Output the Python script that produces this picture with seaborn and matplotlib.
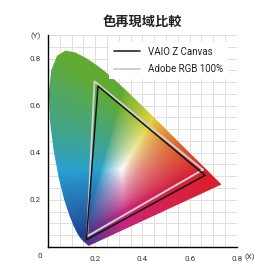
import numpy as np
import pandas as pd
import seaborn as sns
import matplotlib
matplotlib.use("Agg")
from matplotlib import pyplot as plt
from matplotlib.patches import Polygon

# CIE 1931 spectral locus (x, y), 380-680 nm
locus_x = [0.1741, 0.1740, 0.1738, 0.1736, 0.1733, 0.1730, 0.1726, 0.1721, 0.1714, 0.1703,
           0.1689, 0.1669, 0.1644, 0.1611, 0.1566, 0.1510, 0.1440, 0.1355, 0.1241, 0.1096,
           0.0913, 0.0687, 0.0454, 0.0235, 0.0082, 0.0039, 0.0139, 0.0389, 0.0743, 0.1142,
           0.1547, 0.1929, 0.2296, 0.2658, 0.3016, 0.3373, 0.3731, 0.4087, 0.4441, 0.4788,
           0.5125, 0.5448, 0.5752, 0.6029, 0.6270, 0.6482, 0.6658, 0.6801, 0.6915, 0.7006,
           0.7079, 0.7140, 0.7190, 0.7230, 0.7260, 0.7300, 0.7347]
locus_y = [0.0050, 0.0050, 0.0049, 0.0049, 0.0048, 0.0048, 0.0048, 0.0048, 0.0051, 0.0058,
           0.0069, 0.0086, 0.0109, 0.0138, 0.0177, 0.0227, 0.0297, 0.0399, 0.0578, 0.0868,
           0.1327, 0.2007, 0.2950, 0.4127, 0.5384, 0.6548, 0.7502, 0.8120, 0.8338, 0.8262,
           0.8059, 0.7816, 0.7543, 0.7243, 0.6923, 0.6589, 0.6245, 0.5896, 0.5547, 0.5202,
           0.4866, 0.4544, 0.4242, 0.3965, 0.3725, 0.3514, 0.3340, 0.3197, 0.3083, 0.2993,
           0.2920, 0.2859, 0.2809, 0.2770, 0.2740, 0.2700, 0.2653]

# gamut triangles (R, G, B, back to R)
vaio_x = [0.665, 0.212, 0.163, 0.665]
vaio_y = [0.304, 0.683, 0.030, 0.304]
adobe_x = [0.656, 0.197, 0.166, 0.656]
adobe_y = [0.328, 0.703, 0.045, 0.328]

series = ["VAIO Z Canvas", "Adobe RGB 100%"]
x_ticks = [0.2, 0.4, 0.6, 0.8]
x_labels = ["0.2", "0.4", "0.6", "0.8"]
y_ticks = [0.2, 0.4, 0.6, 0.8, 0.9]
y_labels = ["0.2", "0.4", "0.6", "0.8", "(Y)"]

# muted print-like tones for the corners of the RGB cube
cube = {
    (0, 0, 0): (0.00, 0.00, 0.00),
    (1, 0, 0): (0.86, 0.12, 0.16),
    (0, 1, 0): (0.38, 0.67, 0.20),
    (0, 0, 1): (0.13, 0.24, 0.56),
    (0, 1, 1): (0.16, 0.63, 0.82),
    (1, 0, 1): (0.78, 0.15, 0.50),
    (1, 1, 0): (0.88, 0.83, 0.25),
    (1, 1, 1): (1.00, 1.00, 1.00),
}

sns.set_style("white")
plt.rcParams["font.family"] = ["Roboto", "DejaVu Sans"]

fig = plt.figure(figsize=(2.55, 2.61), dpi=100)
ax = fig.add_axes([0.188, 0.054, 0.741, 0.812])

# colour fill of the horseshoe
gx, gy = np.meshgrid(np.linspace(0.001, 0.8, 400), np.linspace(0.001, 0.9, 450))
X = gx / gy
Z = (1 - gx - gy) / gy
M = np.array([[3.2406, -1.5372, -0.4986],
              [-0.9689, 1.8758, 0.0415],
              [0.0557, -0.2040, 1.0570]])
lin = np.stack([X, np.ones_like(X), Z], axis=-1) @ M.T
lin = np.clip(lin, 0, None)
lin = lin / lin.max(axis=-1, keepdims=True)
c = np.where(lin <= 0.0031308, 12.92 * lin, 1.055 * lin ** (1 / 2.4) - 0.055)
c = np.clip(c, 0, 1) ** 1.5
r, g, b = c[..., 0:1], c[..., 1:2], c[..., 2:3]
rgb = np.zeros_like(c)
for (i, j, k), col in cube.items():
    w = (r if i else 1 - r) * (g if j else 1 - g) * (b if k else 1 - b)
    rgb += w * np.array(col)
rgb = np.clip(rgb, 0, 1)

im = ax.imshow(rgb, extent=(0.001, 0.8, 0.001, 0.9), origin="lower",
               interpolation="bilinear", zorder=1, aspect="auto")
shape = Polygon(np.column_stack([locus_x, locus_y]), closed=True,
                facecolor="none", edgecolor="none", transform=ax.transData)
ax.add_patch(shape)
im.set_clip_path(shape)

df = pd.concat([
    pd.DataFrame({"x": adobe_x, "y": adobe_y, "s": series[1]}),
    pd.DataFrame({"x": vaio_x, "y": vaio_y, "s": series[0]}),
])
sns.lineplot(data=df[df.s == series[1]], x="x", y="y", sort=False, estimator=None,
             color="#cfcfcf", linewidth=1.4, ax=ax, label=series[1], zorder=3)
sns.lineplot(data=df[df.s == series[0]], x="x", y="y", sort=False, estimator=None,
             color="#141414", linewidth=1.1, ax=ax, label=series[0], zorder=4)

ax.set_xlim(0, 0.8)
ax.set_ylim(0, 0.9)
ax.set_xlabel("")
ax.set_ylabel("")
ax.set_xticks(np.arange(0.05, 0.801, 0.05), minor=True)
ax.set_yticks(np.arange(0.05, 0.901, 0.05), minor=True)
ax.grid(True, which="both", color="#e0e0e0", linewidth=0.7)
ax.set_axisbelow(True)
ax.set_xticks(x_ticks)
ax.set_xticklabels(x_labels)
ax.set_yticks(y_ticks)
ax.set_yticklabels(y_labels)
ax.tick_params(which="major", direction="out", length=2, width=0.8, color="black",
               labelsize=5.8, labelcolor="#333333", pad=3)
ax.tick_params(axis="x", which="major", pad=4.5)
ax.tick_params(which="minor", length=0)
for s in ["top", "right"]:
    ax.spines[s].set_visible(False)
for s in ["left", "bottom"]:
    ax.spines[s].set_color("black")
    ax.spines[s].set_linewidth(1.0)

ax.text(-0.034, -0.04, "0", ha="center", va="center", fontsize=5.8, color="#333333",
        clip_on=False)
ax.text(0.832, -0.043, "(X)", ha="left", va="center", fontsize=5.8, color="#333333",
        clip_on=False)

h, l = ax.get_legend_handles_labels()
order = [l.index(series[0]), l.index(series[1])]
leg = ax.legend([h[i] for i in order], [l[i] for i in order], loc="upper left",
                bbox_to_anchor=(0.30, 0.99), frameon=True, facecolor="white",
                edgecolor="none", framealpha=1, fancybox=False, fontsize=7,
                handlelength=2.6, handletextpad=0.9, labelspacing=0.75, borderpad=0.5)
for t in leg.get_texts():
    t.set_color("#222222")

fig.text(0.557, 0.916, "色再現域比較", ha="center", va="center", fontsize=9.5,
         fontweight="bold", family=["Noto Sans CJK JP"], color="#222222")

fig.savefig("out.png", dpi=100)
